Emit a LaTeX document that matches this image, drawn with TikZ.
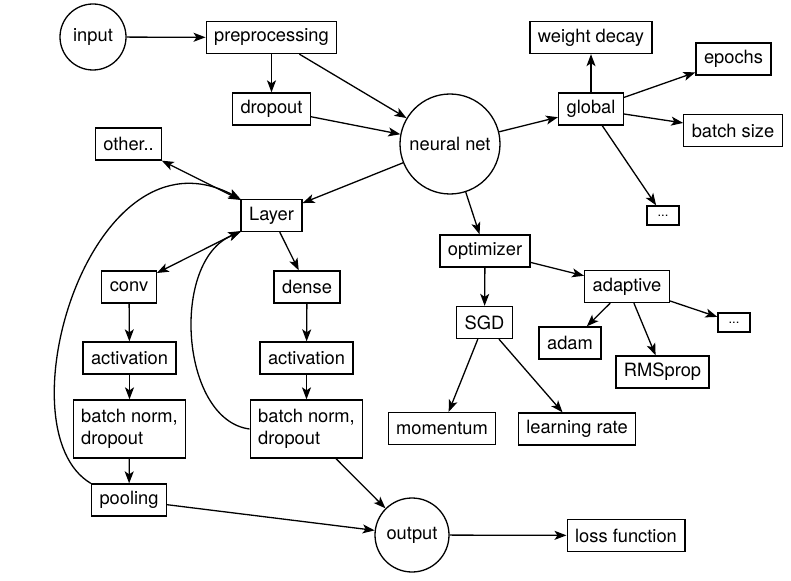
\documentclass[tikz,border=0pt]{standalone}
\usepackage{fontspec}
\setmainfont{TeX Gyre Heros}
\usetikzlibrary{arrows.meta}

\begin{document}
\begin{tikzpicture}[x=1pt, y=-1pt, line width=1.3pt,
    >={Stealth[length=12pt, width=9pt, inset=3pt]},
    every node/.style={font=\fontsize{18.3}{22}\selectfont, line width=1.3pt},
    box/.style={draw, rectangle, inner xsep=8pt, minimum height=32pt},
    twoline/.style={draw, rectangle, align=left, inner xsep=8pt, minimum height=58pt},
    dots/.style={draw, rectangle, inner sep=0pt, minimum width=32pt, minimum height=19pt, font=\fontsize{13}{15}\selectfont},
    round/.style={draw, circle, inner sep=1pt}]
    \useasboundingbox (0,0) rectangle (791,580);
    \node[round, minimum size=66pt] (input) at (93,37) {input};
    \node[box] (prep) at (271.5,37.5) {preprocessing};
    \node[box] (drop) at (271.5,109) {dropout};
    \node[round, minimum size=100pt] (net) at (450,144) {neural net};
    \node[box] (global) at (591,109) {global};
    \node[box] (decay) at (591,37.5) {weight decay};
    \node[box] (epochs) at (733.5,59) {epochs};
    \node[box] (batch) at (733,130.5) {batch size};
    \node[dots] (gmore) at (663,215.5) {...};
    \node[box] (other) at (128.5,144) {other..};
    \node[box] (layer) at (271.5,215.5) {Layer};
    \node[box] (opt) at (485,251) {optimizer};
    \node[box] (adapt) at (627,286.5) {adaptive};
    \node[box] (sgd) at (484.5,322.5) {SGD};
    \node[box] (adam) at (570,343) {adam};
    \node[dots] (amore) at (734,322.5) {...};
    \node[box] (rms) at (662.5,372) {RMSprop};
    \node[box] (mom) at (442,428.5) {momentum};
    \node[box] (lr) at (577,429) {learning rate};
    \node[box] (conv) at (129,287) {conv};
    \node[box] (dense) at (307,287) {dense};
    \node[box] (actl) at (129.5,358) {activation};
    \node[box] (actr) at (306.5,358) {activation};
    \node[twoline] (bnl) at (129.5,429) {batch norm,\\dropout};
    \node[twoline] (bnr) at (306.5,429) {batch norm,\\dropout};
    \node[box] (pool) at (129,500) {pooling};
    \node[round, minimum size=74pt] (out) at (412,535) {output};
    \node[box] (loss) at (626,535.5) {loss function};
    \draw[->] (input) -- (prep);
    \draw[->] (prep) -- (drop);
    \draw[->] (prep) -- (net);
    \draw[->] (drop) -- (net);
    \draw[->] (net) -- (layer);
    \draw[->] (net) -- (global);
    \draw[->] (net) -- (opt);
    \draw[->] (global) -- (decay);
    \draw[->] (global) -- (epochs);
    \draw[->] (global) -- (batch);
    \draw[->] (global) -- (gmore);
    \draw[->] (opt) -- (sgd);
    \draw[->] (opt) -- (adapt);
    \draw[->] (sgd) -- (mom);
    \draw[->] (sgd) -- (lr);
    \draw[->] (adapt) -- (adam);
    \draw[->] (adapt) -- (rms);
    \draw[->] (adapt) -- (amore);
    \draw[<->] (other) -- (layer);
    \draw[<->] (conv) -- (layer);
    \draw[->] (layer) -- (dense);
    \draw[->] (conv) -- (actl);
    \draw[->] (actl) -- (bnl);
    \draw[->] (bnl) -- (pool);
    \draw[->] (dense) -- (actr);
    \draw[->] (actr) -- (bnr);
    \draw[->] (bnr) -- (out);
    \draw[->] (pool) -- (out);
    \draw[->] (out) -- (loss);
    \draw[->] (pool.north west) .. controls (0,430) and (90,120) .. (layer.north west);
    \draw[->] (bnr.west) .. controls (180,420) and (170,260) .. (layer.south west);
\end{tikzpicture}
\end{document}
